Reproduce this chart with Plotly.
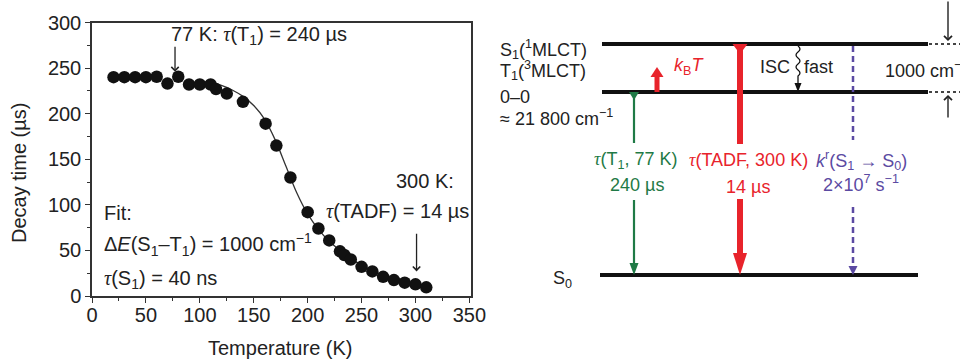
import plotly.graph_objects as go

# ---------------- data ----------------
temps = [20, 30, 40, 50, 60, 70, 80, 90, 100, 110, 115, 125, 140, 161, 171, 184,
         200, 210, 220, 230, 234, 240, 250, 260, 270, 280, 290, 300, 310]
decay = [240, 240, 240, 240, 240.5, 233, 240.5, 232, 232, 232, 227, 222, 213, 189, 165, 130,
         92, 74, 61, 49, 45, 40, 32, 27, 21, 17.5, 14.6, 12.8, 9.5]

fit_T = [105, 110, 120, 130, 140, 150, 160, 170, 180, 190, 200, 210, 220, 230, 240, 250,
         260, 270, 280, 290, 300, 310]
fit_tau = [235, 234, 231, 226, 219, 209, 194, 171, 142, 113, 90, 73, 60, 50, 41, 34,
           28, 23, 19, 16, 13, 11]

x_ticks = [0, 50, 100, 150, 200, 250, 300, 350]
y_ticks = [0, 50, 100, 150, 200, 250, 300]

FONT = "Liberation Sans, Arial, sans-serif"
TAU = '<i><span style="font-family:Liberation Serif">τ</span></i>'
W, H = 960, 360
GREEN = "#1f7a46"
RED = "#e8232b"
PURPLE = "#5b4aa2"
BLACK = "#111111"


def px(x):
    return x / W


def py(y):
    return 1 - y / H


fig = go.Figure()

fig.add_trace(go.Scatter(x=fit_T, y=fit_tau, mode="lines",
                         line=dict(color="#333333", width=1.3, shape="spline"),
                         showlegend=False, hoverinfo="skip"))
fig.add_trace(go.Scatter(x=temps, y=decay, mode="markers",
                         marker=dict(color=BLACK, size=12.5),
                         showlegend=False))

axis_common = dict(showline=True, linecolor="#333333", linewidth=1.5, mirror=True,
                   ticks="outside", ticklen=5, tickwidth=1.2, tickcolor="#333333",
                   showgrid=False, zeroline=False, automargin=False,
                   tickfont=dict(family=FONT, size=20, color="#222222"))

fig.update_layout(
    width=W, height=H,
    margin=dict(l=0, r=0, t=0, b=0, autoexpand=False),
    paper_bgcolor="white", plot_bgcolor="white",
    font=dict(family=FONT, color="#222222"),
    xaxis=dict(domain=[px(92), px(471)], range=[0, 351.5], tickvals=x_ticks,
               ticklabelstandoff=-5,
               minor=dict(dtick=25, ticks="outside", ticklen=3, tickcolor="#333333"),
               **axis_common),
    yaxis=dict(domain=[py(296), py(22.5)], range=[0, 300], tickvals=y_ticks,
               minor=dict(dtick=25, ticks="outside", ticklen=3, tickcolor="#333333"),
               **axis_common),
)

ann = []
# axis titles
ann.append(dict(text="Temperature (K)", x=px(280), y=py(348), xref="paper", yref="paper",
                showarrow=False, font=dict(size=20), xanchor="center", yanchor="middle"))
ann.append(dict(text="Decay time (µs)", x=px(19), y=py(173), xref="paper", yref="paper",
                showarrow=False, font=dict(size=20), textangle=-90,
                xanchor="center", yanchor="middle"))

# left plot annotations
lf = dict(size=20, color="#222222")
ann.append(dict(text=f"77 K: {TAU}(T<sub>1</sub>) = 240 µs", x=155, y=286, xref="x", yref="y",
                showarrow=False, font=lf, xanchor="center", yanchor="middle"))
ann.append(dict(text="", x=77, y=246, ax=77, ay=275, xref="x", yref="y", axref="x", ayref="y",
                showarrow=True, arrowhead=4, arrowsize=1.1, arrowwidth=1.3, arrowcolor="#222222"))
ann.append(dict(text="300 K:", x=px(456), y=py(181), xref="paper", yref="paper", showarrow=False,
                font=lf, xanchor="right", yanchor="middle"))
ann.append(dict(text=f"{TAU}(TADF) = 14 µs", x=px(471), y=py(211), xref="paper", yref="paper",
                showarrow=False, font=lf, xanchor="right", yanchor="middle"))
ann.append(dict(text="", x=301, y=27, ax=301, ay=70, xref="x", yref="y", axref="x", ayref="y",
                showarrow=True, arrowhead=4, arrowsize=1.1, arrowwidth=1.3, arrowcolor="#222222"))
ann.append(dict(text="Fit:", x=9, y=91, xref="x", yref="y", showarrow=False, font=lf,
                xanchor="left", yanchor="middle"))
ann.append(dict(text="Δ<i>E</i>(S<sub>1</sub>–T<sub>1</sub>) = 1000 cm<sup>−1</sup>", x=9, y=56,
                xref="x", yref="y", showarrow=False, font=lf, xanchor="left", yanchor="middle"))
ann.append(dict(text=f"{TAU}(S<sub>1</sub>) = 40 ns", x=9, y=18, xref="x", yref="y",
                showarrow=False, font=lf, xanchor="left", yanchor="middle"))

# ---------------- energy level diagram ----------------
Y_S1, Y_T1, Y_S0 = 44, 92, 275
shapes = []


def hline(x0, x1, y, color=BLACK, width=4, dash=None):
    line = dict(color=color, width=width)
    if dash:
        line["dash"] = dash
    shapes.append(dict(type="line", xref="paper", yref="paper", x0=px(x0), x1=px(x1),
                       y0=py(y), y1=py(y), line=line))


def vline(x, y0, y1, color, width, dash=None):
    line = dict(color=color, width=width)
    if dash:
        line["dash"] = dash
    shapes.append(dict(type="line", xref="paper", yref="paper", x0=px(x), x1=px(x),
                       y0=py(y0), y1=py(y1), line=line))


def tri(xc, ybase, ytip, half, color):
    path = (f"M {px(xc - half)},{py(ybase)} L {px(xc + half)},{py(ybase)} "
            f"L {px(xc)},{py(ytip)} Z")
    shapes.append(dict(type="path", xref="paper", yref="paper", path=path,
                       fillcolor=color, line=dict(color=color, width=0)))


hline(602, 928, Y_S1)
hline(602, 928, Y_T1)
hline(600, 918, Y_S0)
hline(929, 962, Y_S1, color="#444444", width=2, dash="dot")
hline(929, 962, Y_T1, color="#444444", width=2, dash="dot")

# green arrow (T1 -> S0)
XG = 634
tri(XG, Y_T1, 100, 5, GREEN)
vline(XG, Y_T1, 143, GREEN, 2.2)
vline(XG, 200, 265, GREEN, 2.2)
tri(XG, 263, Y_S0, 4.5, GREEN)

# red TADF arrow (S1 -> S0)
XR = 740
tri(XR, Y_S1, 54, 7.5, RED)
vline(XR, Y_S1, 144, RED, 6)
vline(XR, 199, 256, RED, 6)
tri(XR, 253, Y_S0, 7, RED)

# red kBT up arrow
XK = 657
vline(XK, Y_T1, 76, RED, 5)
tri(XK, 77, 67, 6.5, RED)

# purple dashed arrow
XP = 853
vline(XP, Y_S1 + 2, 140, PURPLE, 2.5, dash="6px,4px")
vline(XP, 207, 267, PURPLE, 2.5, dash="6px,4px")
tri(XP, 266, Y_S0, 4.5, PURPLE)

# ISC wavy arrow
XI = 798
seg = 6
y = Y_S1 + 2
path = f"M {px(XI)},{py(y)}"
side = 1
while y + seg <= 78:
    path += f" Q {px(XI + 4 * side)},{py(y + seg / 2)} {px(XI)},{py(y + seg)}"
    y += seg
    side = -side
path += f" L {px(XI)},{py(84)}"
shapes.append(dict(type="path", xref="paper", yref="paper", path=path,
                   line=dict(color=BLACK, width=1.3)))
tri(XI, 83, Y_T1, 3.5, BLACK)

# right-hand gap arrows
ann.append(dict(text="", x=px(948), y=py(41), ax=0, ay=-42, xref="paper", yref="paper",
                showarrow=True, arrowhead=4, arrowsize=1.1, arrowwidth=1.4, arrowcolor="#222222"))
ann.append(dict(text="", x=px(948), y=py(95), ax=0, ay=24, xref="paper", yref="paper",
                showarrow=True, arrowhead=4, arrowsize=1.1, arrowwidth=1.4, arrowcolor="#222222"))

DS = 18
df = dict(size=DS, color="#222222")


def label(text, x, y, anchor="left", font=None):
    ann.append(dict(text=text, x=px(x), y=py(y), xref="paper", yref="paper",
                    showarrow=False, xanchor=anchor, yanchor="middle", font=font or df))


label("S<sub>1</sub>(<sup>1</sup>MLCT)", 498, 50)
label("T<sub>1</sub>(<sup>3</sup>MLCT)", 498, 71)
label("0–0", 498, 97)
label("≈ 21 800 cm<sup>−1</sup>", 498, 118)
label("S<sub>0</sub>", 562, 279, anchor="center")
label("<i>k</i><sub>B</sub><i>T</i>", 672, 66, font=dict(size=DS, color=RED))
label("ISC", 792, 67, anchor="right")
label("fast", 802, 67)
label("1000 cm<sup>−1</sup>", 883, 69)
label(f"{TAU}(T<sub>1</sub>, 77 K)", 636, 160, anchor="center", font=dict(size=DS, color=GREEN))
label("240 µs", 637, 185, anchor="center", font=dict(size=DS, color=GREEN))
label(f"{TAU}(TADF, 300 K)", 748, 160, anchor="center", font=dict(size=DS, color=RED))
label("14 µs", 748, 187, anchor="center", font=dict(size=DS, color=RED))
label("<i>k</i><sup>r</sup>(S<sub>1</sub> → S<sub>0</sub>)", 861, 160, anchor="center",
      font=dict(size=DS, color=PURPLE))
label("2×10<sup>7</sup> s<sup>−1</sup>", 861, 183, anchor="center", font=dict(size=DS, color=PURPLE))

fig.update_layout(annotations=ann, shapes=shapes)
fig.write_html("out.html")
